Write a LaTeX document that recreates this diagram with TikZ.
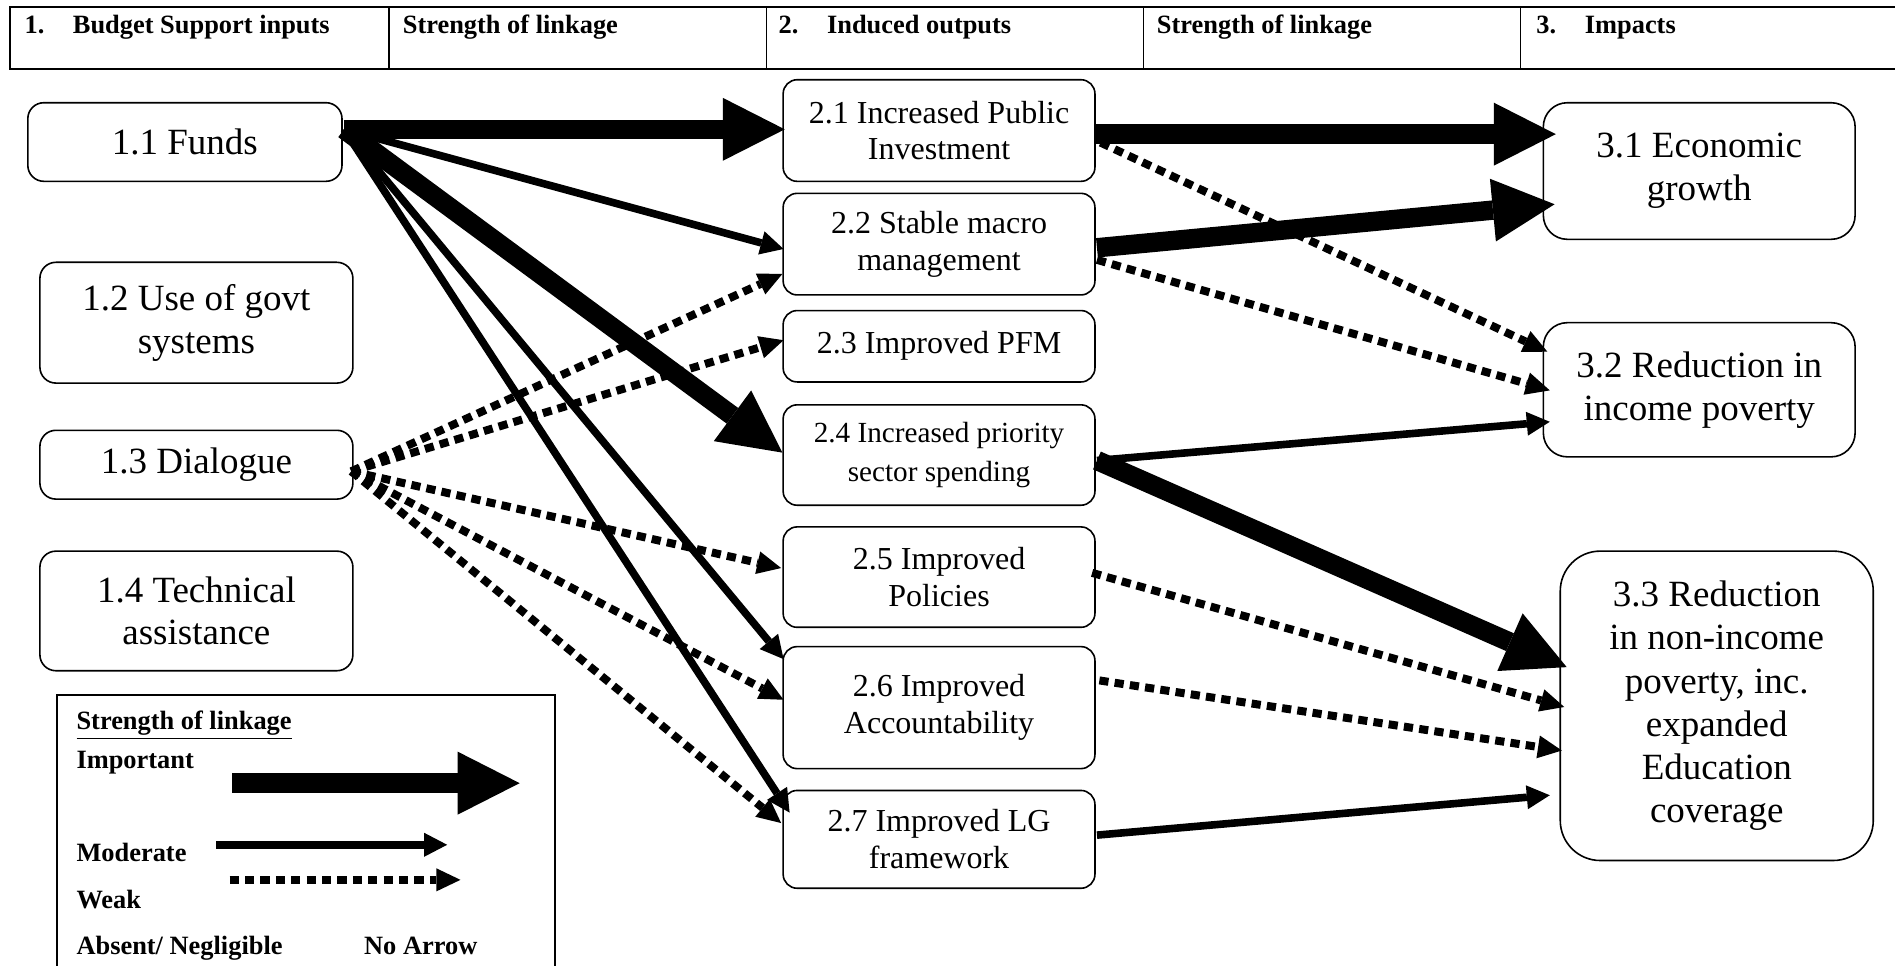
\documentclass[tikz,border=0pt]{standalone}
\usepackage{fontspec}
\setmainfont{Liberation Serif}
\usetikzlibrary{arrows.meta,calc}

\begin{document}
\begin{tikzpicture}[x=0.6043pt,y=-0.6043pt,line join=miter]
\tikzstyle{box}=[shape=rectangle,draw=black,line width=0.8pt,inner sep=0pt,align=center]
\tikzstyle{inbox}=[box,rounded corners=8pt,minimum width=156.5pt,font=\fontsize{18.5}{21.3}\selectfont]
\tikzstyle{outbox}=[box,rounded corners=7pt,minimum width=155.9pt,font=\fontsize{16}{18.4}\selectfont]
\tikzstyle{impbox}=[box,rounded corners=12pt,minimum width=155.9pt,font=\fontsize{18.5}{21.6}\selectfont]
\tikzstyle{hdr}=[anchor=base west,inner sep=0pt,font=\bfseries\fontsize{13.2}{15}\selectfont]
\tikzstyle{important}=[line width=9.7pt,-{Triangle[length=31pt,width=31.5pt,line width=0pt]}]
\tikzstyle{moderate}=[line width=3.8pt,-{Triangle[length=11.5pt,width=12pt,line width=0pt]}]
\tikzstyle{weak}=[line width=4pt,dash pattern=on 4.6pt off 3.1pt,-{Triangle[length=12pt,width=11.5pt,line width=0pt]}]
\useasboundingbox (0,0) rectangle (1568,798.5);

% header row
\draw[line width=1pt] (8,6) rectangle (1580,57);
\foreach \x in {322,634,946,1258} \draw[line width=0.7pt] (\x,6) -- (\x,57);
\node[hdr] (h1) at (20,27.5) {1.\hspace{14.3pt}Budget Support inputs};
\node[hdr] (h2) at (333,27.5) {Strength of linkage};
\node[hdr] (h3) at (644,27.5) {2.\hspace{14.3pt}Induced outputs};
\node[hdr] (h4) at (957,27.5) {Strength of linkage};
\node[hdr] (h5) at (1271,27.5) {3.\hspace{14.3pt}Impacts};

% inputs
\node[inbox,minimum width=157.1pt,minimum height=39.3pt] (f11) at (153,117.5) {1.1 Funds};
\node[inbox,minimum height=60.4pt] (u12) at (162.5,267) {1.2 Use of govt\\systems};
\node[inbox,minimum height=34.4pt] (d13) at (162.5,384.5) {1.3 Dialogue};
\node[inbox,minimum height=59.8pt] (t14) at (162.5,505.5) {1.4 Technical\\assistance};

% induced outputs
\node[outbox,minimum height=50.8pt] (o21) at (777,108) {2.1 Increased Public\\Investment};
\node[outbox,minimum height=50.8pt] (o22) at (777,202) {2.2 Stable macro\\management};
\node[outbox,minimum height=35.7pt] (o23) at (777,286.5) {2.3 Improved PFM};
\node[outbox,minimum height=50.2pt,font=\fontsize{14.6}{19.3}\selectfont] (o24) at (777,376.5) {2.4 Increased priority\\sector spending};
\node[outbox,minimum height=50.2pt] (o25) at (777,477.5) {2.5 Improved\\Policies};
\node[outbox,minimum height=61pt] (o26) at (777,585.5) {2.6 Improved\\Accountability};
\node[outbox,minimum height=48.9pt] (o27) at (777,694.5) {2.7 Improved LG\\framework};

% impacts
\node[impbox,minimum height=68.3pt] (i31) at (1406,141.5) {3.1 Economic\\growth};
\node[impbox,minimum height=67.1pt] (i32) at (1406,322.5) {3.2 Reduction in\\income poverty};
\node[impbox,rounded corners=20pt,minimum width=156.5pt,minimum height=154.7pt] (i33) at (1420.5,584) {3.3 Reduction\\in non-income\\poverty, inc.\\expanded\\Education\\coverage};

% inputs -> outputs
\path ($(f11.east)+(1,-10.5)$) edge[important] ($(o21.west)+(2,-1)$)
	($(f11.east)+(1,-10.5)$) edge[moderate] ($(o22.west)+(1,4)$)
	($(f11.east)+(1,-10.5)$) edge[important] ($(o24.west)+(0,-2)$)
	($(f11.east)+(1,-10.5)$) edge[moderate] ($(o26.north west)+(1,11)$)
	($(f11.east)+(1,-10.5)$) edge[moderate] ($(o27.north west)+(6,19)$);
\path ($(d13.east)+(-2,5.5)$) edge[weak] ($(o22.south west)+(0,-18)$)
	($(d13.east)+(-2,5.5)$) edge[weak] ($(o23.west)+(1,-5)$)
	($(d13.east)+(-2,5.5)$) edge[weak] ($(o25.west)+(-1,-7.5)$)
	($(d13.east)+(-2,5.5)$) edge[weak] ($(o26.west)+(1,-6.5)$)
	($(d13.east)+(-2,5.5)$) edge[weak] ($(o27.west)+(-1,-13.5)$);

% outputs -> impacts
\path ($(o21.east)+(0,3)$) edge[important] ($(i31.west)+(11,-30.5)$)
	($(o21.east)+(4,10)$) edge[weak] ($(i32.west)+(4,-31.5)$)
	($(o22.east)+(1,3)$) edge[important] ($(i31.west)+(10,27.5)$)
	($(o22.east)+(1,13)$) edge[weak] ($(i32.west)+(6,0.5)$)
	($(o24.east)+(1,4.5)$) edge[moderate] ($(i32.west)+(6,26.5)$)
	($(o24.east)+(1,4.5)$) edge[important] ($(i33.west)+(6,-32)$)
	($(o25.east)+(-3,-3.5)$) edge[weak] ($(i33.west)+(4,1)$)
	($(o26.east)+(3,-22.5)$) edge[weak] ($(i33.west)+(2,37)$)
	($(o27.east)+(1,-3.5)$) edge[moderate] ($(i33.west)+(-8,74)$);

% legend
\draw[line width=1pt] (47,575) rectangle (459,815);
\node[hdr] (lgTitle) at (63,604) {\underline{Strength of linkage}};
\node[hdr] (lgImp) at (63,636) {Important};
\node[hdr] (lgMod) at (63,713) {Moderate};
\node[hdr] (lgWeak) at (63,752) {Weak};
\node[hdr] (lgNone) at (63,790) {Absent/ Negligible};
\node[hdr] (lgNoArrow) at (301,790) {No Arrow};
\coordinate (impA) at (192,648);
\coordinate (impB) at (430,648);
\coordinate (modA) at (179,699);
\coordinate (modB) at (370,699);
\coordinate (weakA) at (190,728);
\coordinate (weakB) at (381,728);
\path (impA) edge[important] (impB)
	(modA) edge[moderate] (modB)
	(weakA) edge[weak] (weakB);
\end{tikzpicture}
\end{document}
